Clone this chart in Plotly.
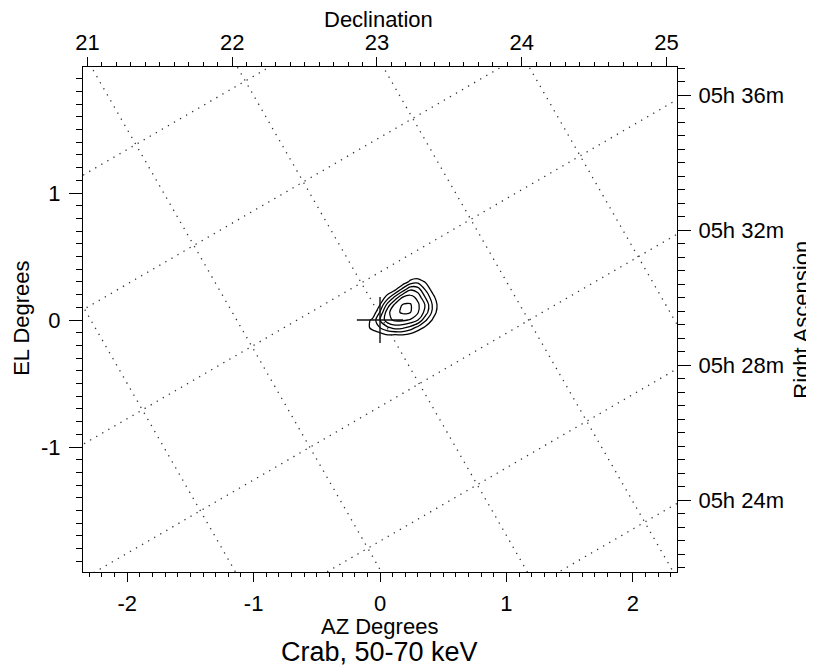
import numpy as np
import plotly.graph_objects as go

# ---------------- data ----------------
AZ_RANGE = [-2.35, 2.35]
EL_RANGE = [-1.984, 1.992]
DEC_RANGE = [20.969, 25.073]
RA_RANGE = [21.88, 36.84]          # minutes of 05h

AZ_TICKS = [-2, -1, 0, 1, 2]
AZ_TICKTEXT = ["-2", "-1", "0", "1", "2"]
EL_TICKS = [-1, 0, 1]
EL_TICKTEXT = ["-1", "0", "1"]
DEC_TICKS = [21, 22, 23, 24, 25]
RA_TICKS = [24, 28, 32, 36]
RA_TICKTEXT = ["05h 24m", "05h 28m", "05h 32m", "05h 36m"]

# sky grid (lines drawn at these values)
DEC_GRID = [20, 21, 22, 23, 24, 25]
RA_GRID = [24, 28, 32, 36, 40, 44]
POINT_DEC = 21.982        # dec at AZ=EL=0
POINT_RA = 34.573         # RA minutes at AZ=EL=0
ROLL_DEG = 30.0           # grid rotation
DEG_PER_RA_MIN = 0.2294   # degrees on sky per RA minute

# source image (contours)
CONT_AZ = [-0.18, -0.12, -0.06, 0.0, 0.06, 0.12, 0.18, 0.24, 0.30, 0.36, 0.42, 0.48, 0.54]
CONT_EL = [-0.18, -0.12, -0.06, 0.0, 0.06, 0.12, 0.18, 0.24, 0.30, 0.36, 0.42]
CONT_Z = [
    [0, 0, 0, 0, 0, 0, 0, 0, 0, 0, 0, 0, 0],
    [0, 0, 0.3, 0.5, 0.9, 0.8, 0.9, 0.6, 0, 0, 0, 0, 0],
    [0, 0.5, 1.3, 2.0, 2.8, 3.4, 3.2, 2.6, 1.65, 0.75, 0, 0, 0],
    [0, 0.5, 1.2, 3.0, 4.7, 5.2, 5.2, 4.9, 4.05, 2.2, 0.8, 0, 0],
    [0, 0, 0.1, 2.1, 4.7, 5.75, 6.15, 6.05, 5.1, 3.6, 1.6, 0.1, 0],
    [0, 0, 0, 1.0, 3.4, 5.3, 6.05, 6.1, 5.2, 3.9, 1.75, 0.3, 0],
    [0, 0, 0, 0, 1.5, 3.3, 5.0, 5.4, 4.7, 2.9, 1.3, 0, 0],
    [0, 0, 0, 0, 0, 0.8, 2.4, 3.9, 3.5, 1.9, 0.5, 0, 0],
    [0, 0, 0, 0, 0, 0, 0.2, 1.3, 1.7, 0.9, 0, 0, 0],
    [0, 0, 0, 0, 0, 0, 0, 0, 0, 0, 0, 0, 0],
    [0, 0, 0, 0, 0, 0, 0, 0, 0, 0, 0, 0, 0],
]
CONT_LEVELS = dict(start=1, end=6, size=1)

SOURCE_AZ = [0.0]
SOURCE_EL = [0.0]

TITLE = "Crab, 50-70 keV"
FONT = "Liberation Sans, Arial, Helvetica, sans-serif"

# ---------------- sky-grid geometry (coordinate transform) ----------------
th = np.radians(ROLL_DEG)
n_dec = np.array([np.cos(th), np.sin(th)])     # direction of increasing dec
n_ra = np.array([-np.sin(th), np.cos(th)])     # direction of increasing RA
t = np.array([-6.0, 6.0])

gx, gy = [], []
for d in DEC_GRID:
    base = n_dec * (d - POINT_DEC)
    pts = base[None, :] + t[:, None] * n_ra[None, :]
    gx += list(pts[:, 0]) + [None]
    gy += list(pts[:, 1]) + [None]
for r in RA_GRID:
    base = n_ra * (r - POINT_RA) * DEG_PER_RA_MIN
    pts = base[None, :] + t[:, None] * n_dec[None, :]
    gx += list(pts[:, 0]) + [None]
    gy += list(pts[:, 1]) + [None]

fig = go.Figure()
fig.add_trace(go.Scatter(x=gx, y=gy, mode="lines",
                         line=dict(color="#333333", width=1.3, dash="1.3px,5.7px"),
                         hoverinfo="skip", showlegend=False))
fig.add_trace(go.Contour(x=CONT_AZ, y=CONT_EL, z=CONT_Z,
                         contours=dict(coloring="lines", **CONT_LEVELS),
                         colorscale=[[0, "black"], [1, "black"]],
                         line=dict(width=1.3, smoothing=0.9),
                         showscale=False, hoverinfo="skip"))
fig.add_trace(go.Scatter(x=SOURCE_AZ, y=SOURCE_EL, mode="markers",
                         marker=dict(symbol="cross-thin", size=33,
                                     line=dict(color="#111111", width=1.4)),
                         hoverinfo="skip", showlegend=False))
# invisible traces to activate secondary axes
fig.add_trace(go.Scatter(x=[DEC_RANGE[0]], y=[EL_RANGE[0]], xaxis="x2", yaxis="y",
                         mode="markers", marker=dict(opacity=0), hoverinfo="skip", showlegend=False))
fig.add_trace(go.Scatter(x=[AZ_RANGE[0]], y=[RA_RANGE[0]], xaxis="x", yaxis="y2",
                         mode="markers", marker=dict(opacity=0), hoverinfo="skip", showlegend=False))

tickfont = dict(family=FONT, size=22, color="black")
common = dict(showline=True, linecolor="black", linewidth=1, showgrid=False,
              zeroline=False, ticks="outside", tickcolor="black", tickwidth=1,
              tickfont=tickfont, automargin=False)

# the page body has an 8px margin, so the figure is offset by 8px
fig.update_layout(
    width=806, height=663,
    margin=dict(l=75, r=137, t=59, b=99, autoexpand=False),
    paper_bgcolor="white", plot_bgcolor="white",
    showlegend=False,
    font=dict(family=FONT, color="black"),
    xaxis=dict(range=AZ_RANGE, tickmode="array", tickvals=AZ_TICKS, ticktext=AZ_TICKTEXT, ticklen=9,
               minor=dict(ticks="outside", ticklen=4, tickmode="linear", tick0=0, dtick=0.1,
                          tickcolor="black", showgrid=False),
               ticklabelstandoff=3, **common),
    yaxis=dict(range=EL_RANGE, tickmode="array", tickvals=EL_TICKS, ticktext=EL_TICKTEXT, ticklen=13,
               minor=dict(ticks="outside", ticklen=6, tickmode="linear", tick0=0, dtick=0.1,
                          tickcolor="black", showgrid=False),
               ticklabelstandoff=4, **common),
    xaxis2=dict(range=DEC_RANGE, overlaying="x", side="top", anchor="y",
                tickmode="array", tickvals=DEC_TICKS, ticklen=9,
                minor=dict(ticks="outside", ticklen=4, tickmode="linear", tick0=0, dtick=0.1,
                           tickcolor="black", showgrid=False),
                ticklabelstandoff=-2, **common),
    yaxis2=dict(range=RA_RANGE, overlaying="y", side="right", anchor="x",
                tickmode="array", tickvals=RA_TICKS, ticktext=RA_TICKTEXT, ticklen=13,
                minor=dict(ticks="outside", ticklen=7, tickmode="linear", tick0=0, dtick=0.4,
                           tickcolor="black", showgrid=False),
                ticklabelstandoff=3, **common),
)

ann = dict(xref="paper", yref="paper", showarrow=False, font=dict(family=FONT, size=22, color="black"))
fig.add_annotation(text="Declination", x=0.498, y=1.094, xanchor="center", yanchor="middle", **ann)
fig.add_annotation(text="AZ Degrees", x=0.499, y=-0.107, xanchor="center", yanchor="middle", **ann)
fig.add_annotation(text="EL Degrees", x=-0.103, y=0.503, textangle=-90, xanchor="center", yanchor="middle", **ann)
fig.add_annotation(text="Right Ascension", x=1.209, y=0.500, textangle=-90, xanchor="center", yanchor="middle", **ann)
fig.add_annotation(text=TITLE, x=0.499, y=-0.158, xanchor="center", yanchor="middle",
                   xref="paper", yref="paper", showarrow=False,
                   font=dict(family=FONT, size=27, color="black"))

fig.write_html("out.html")
